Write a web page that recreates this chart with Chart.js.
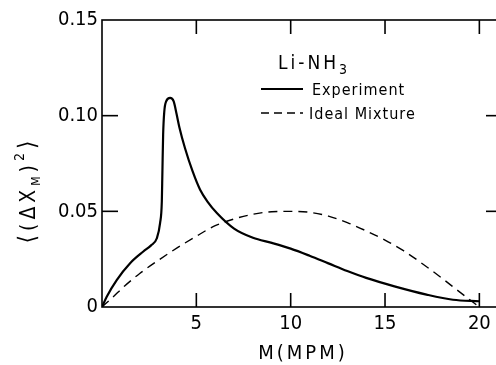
<!DOCTYPE html>
<html>
<head>
<meta charset="utf-8">
<script src="https://cdn.jsdelivr.net/npm/chart.js@4.4.1/dist/chart.umd.min.js"></script>
<style>
  html, body { margin: 0; padding: 0; background: #fff; overflow: hidden; }
  #wrap { width: 496px; height: 365px; overflow: hidden; }
</style>
</head>
<body>
<div id="wrap"><canvas id="my-chart" width="510" height="365"></canvas></div>
<script>
// ======== data ========
const expX = [0, 0.25, 0.78, 1.49, 2.19, 2.6, 2.9, 3.08, 3.17, 3.2, 3.24, 3.3, 3.4, 3.61, 3.8, 3.95, 4.1, 4.4, 4.8, 5.2, 5.6, 6.1, 7.0, 8.0, 9.0, 10.0, 11.0, 12.0, 13.0, 14.0, 15.5, 17.2, 18.6, 20.0]
const expY = [0, 0.0054, 0.0141, 0.0229, 0.029, 0.0322, 0.0358, 0.044, 0.055, 0.07, 0.09, 0.102, 0.1075, 0.1093, 0.1075, 0.101, 0.094, 0.083, 0.071, 0.0613, 0.055, 0.049, 0.041, 0.0362, 0.0335, 0.0305, 0.0268, 0.0228, 0.0188, 0.0152, 0.0108, 0.0065, 0.0038, 0.003]

const idealX = [0, 0.6, 1.2, 2, 3, 4, 5, 6, 7, 8, 9, 10, 11, 12, 13, 14, 15, 16, 17, 18, 19, 20]
const idealY = [0, 0.0054, 0.011, 0.0175, 0.0245, 0.031, 0.037, 0.0425, 0.046, 0.0485, 0.0498, 0.050, 0.0495, 0.0475, 0.0441, 0.0398, 0.035, 0.0293, 0.0225, 0.0152, 0.0075, 0]

const xTicks = [5, 10, 15, 20]
const yTicks = [0, 0.05, 0.10, 0.15]
const yTickLabels = ['0', '0.05', '0.10', '0.15']

const seriesNames = ['Experiment', 'Ideal Mixture']
const systemName = 'Li-NH'
const systemSub = '3'
const xTitle = 'M(MPM)'

const FONT = '"DejaVu Sans Condensed", "Liberation Sans Narrow", "DejaVu Sans", sans-serif'

// draws the box, inward ticks, legend and axis titles
const decorPlugin = {
    id: 'decor',
    afterDraw(chart) {
        const { ctx, chartArea: a, scales: { x, y } } = chart
        ctx.save()
        ctx.strokeStyle = '#000'
        ctx.fillStyle = '#000'
        ctx.lineWidth = 1.6
        ctx.strokeRect(a.left, a.top, a.right - a.left, a.bottom - a.top)

        const line = (x1, y1, x2, y2) => {
            ctx.beginPath(); ctx.moveTo(x1, y1); ctx.lineTo(x2, y2); ctx.stroke()
        }
        xTicks.forEach(v => {
            const px = x.getPixelForValue(v)
            line(px, a.bottom, px, a.bottom - 14)
            line(px, a.top, px, a.top + 14)
        })
        yTicks.forEach(v => {
            if (v === 0 || v === 0.15) return
            const py = y.getPixelForValue(v)
            line(a.left, py, a.left + 16, py)
            line(a.right, py, a.right - 16, py)
        })

        // legend
        ctx.textBaseline = 'alphabetic'
        ctx.textAlign = 'left'
        ctx.letterSpacing = '3px'
        ctx.font = '19px ' + FONT
        ctx.fillText(systemName, 278, 69)
        const w = ctx.measureText(systemName).width
        ctx.font = '14px ' + FONT
        ctx.fillText(systemSub, 278 + w, 74)

        ctx.letterSpacing = '1px'
        ctx.font = '16px ' + FONT
        ctx.lineWidth = 2
        line(261, 89, 303, 89)
        ctx.fillText(seriesNames[0], 312, 95)
        ctx.lineWidth = 1.4
        ctx.setLineDash([8, 5])
        line(261, 113, 303, 113)
        ctx.setLineDash([])
        ctx.fillText(seriesNames[1], 309, 119)

        // x title
        ctx.letterSpacing = '3px'
        ctx.font = '20px ' + FONT
        ctx.textAlign = 'center'
        ctx.fillText(xTitle, 303, 359)

        // y title, rotated: < ( ΔX_M )^2 >
        ctx.letterSpacing = '0px'
        ctx.translate(35, 190)
        ctx.rotate(-Math.PI / 2)
        ctx.textAlign = 'left'
        const parts = [['\u27E8', 24, 0], ['(', 21, 0], ['\u0394', 21, 0], ['X', 21, 0], ['M', 12, 5], [')', 21, 0], ['2', 14, -11], ['\u27E9', 24, 0]]
        const gap = 4
        let total = 0
        parts.forEach(p => { ctx.font = p[1] + 'px ' + FONT; total += ctx.measureText(p[0]).width + gap })
        let cx = -total / 2
        parts.forEach(p => {
            ctx.font = p[1] + 'px ' + FONT
            ctx.fillText(p[0], cx, p[2])
            cx += ctx.measureText(p[0]).width + gap
        })
        ctx.restore()
    }
}

const ctx = document.getElementById('my-chart').getContext('2d')
new Chart(ctx, {
    type: 'scatter',
    data: {
        datasets: [{
            label: seriesNames[0],
            data: expX.map((v, i) => ({ x: v, y: expY[i] })),
            showLine: true,
            borderColor: '#000',
            borderWidth: 2.2,
            pointRadius: 0,
            cubicInterpolationMode: 'monotone'
        },
        {
            label: seriesNames[1],
            data: idealX.map((v, i) => ({ x: v, y: idealY[i] })),
            showLine: true,
            borderColor: '#000',
            borderWidth: 1.4,
            borderDash: [9, 6],
            pointRadius: 0,
            cubicInterpolationMode: 'monotone'
        }]
    },
    options: {
        responsive: false,
        animation: false,
        layout: { padding: { top: 20, right: 8, left: 0, bottom: 0 } },
        plugins: { legend: { display: false }, tooltip: { enabled: false } },
        scales: {
            x: {
                type: 'linear',
                min: 0,
                max: 21.2,
                grid: { display: false, drawTicks: false },
                border: { display: false },
                afterBuildTicks: s => { s.ticks = xTicks.map(v => ({ value: v })) },
                afterFit: s => { s.height = 58 },
                ticks: {
                    color: '#000',
                    padding: 5,
                    maxRotation: 0,
                    font: { family: FONT, size: 20 }
                }
            },
            y: {
                type: 'linear',
                min: 0,
                max: 0.15,
                grid: { display: false, drawTicks: false },
                border: { display: false },
                afterBuildTicks: s => { s.ticks = yTicks.map(v => ({ value: v })) },
                afterFit: s => { s.width = 102 },
                ticks: {
                    color: '#000',
                    padding: 4,
                    font: { family: FONT, size: 20 },
                    callback: (v) => yTickLabels[yTicks.indexOf(v)]
                }
            }
        }
    },
    plugins: [decorPlugin]
})
</script>
</body>
</html>
